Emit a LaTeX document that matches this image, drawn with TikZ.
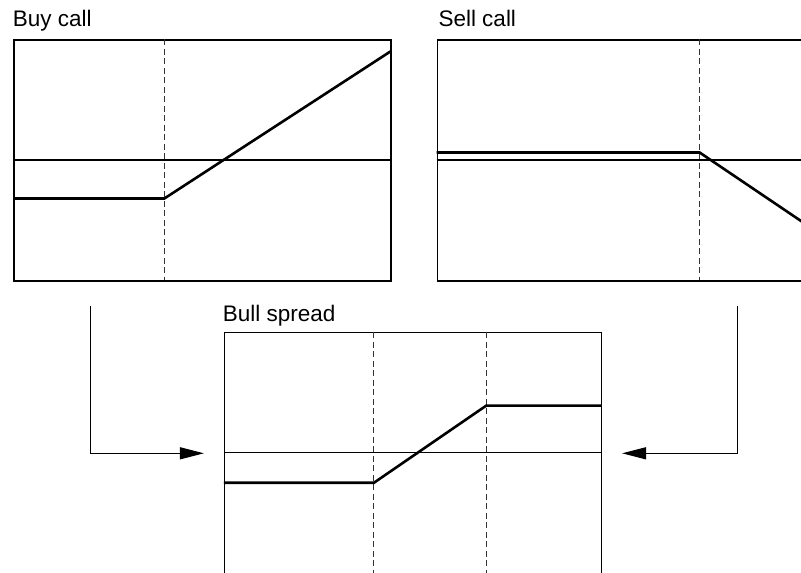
\documentclass[tikz,border=0pt]{standalone}
\usepackage{fontspec}
\setmainfont{Liberation Sans}
\usetikzlibrary{positioning,arrows.meta}

\tikzstyle{chart}  = [rectangle, draw, line width=1.1pt, minimum width=377pt, minimum height=241pt, inner sep=0pt]
\tikzstyle{title}  = [anchor=base west, inner sep=0pt, font=\fontsize{22.5}{26}\selectfont]
\tikzstyle{zero}   = [line width=1.1pt]
\tikzstyle{strike} = [line width=1pt, dash pattern=on 6pt off 3.5pt, black!80]
\tikzstyle{payoff} = [line width=2.6pt, line join=miter]
\tikzstyle{arrow}  = [line width=1.2pt, -{Triangle[length=24pt,width=12pt]}]

\begin{document}
\begin{tikzpicture}[x=1pt, y=-1pt]
\clip (0,0) rectangle (801,573);

\node (buy)  [chart] at (202.5,160.5) {};
\node (sell) [chart, right=45pt of buy] {};
\node (bull) [chart] at (413,453.3) {};

\node (buytitle)  [title] at (12.7,26.7)  {Buy call};
\node (selltitle) [title] at (438.3,26.7) {Sell call};
\node (bulltitle) [title] at (222.7,321.7) {Bull spread};

% buy call
\begin{scope}[shift={(buy.north west)}]
\draw [zero] (0,120.5) -- (377,120.5);
\draw [strike] (151,0) -- (151,241);
\draw [payoff] (0,159) -- (151,159) -- (377,12);
\end{scope}

% sell call
\begin{scope}[shift={(sell.north west)}]
\draw [zero] (0,120.5) -- (377,120.5);
\draw [strike] (263,0) -- (263,241);
\draw [payoff] (0,113) -- (263,113) -- (377,190);
\end{scope}

% bull spread
\begin{scope}[shift={(bull.north west)}]
\draw [zero] (0,120.5) -- (377,120.5);
\draw [strike] (150,0) -- (150,241);
\draw [strike] (262.4,0) -- (262.4,241);
\draw [payoff] (0,150.5) -- (150,150.5) -- (262.4,73.3) -- (377,73.3);
\end{scope}

\coordinate (buyfoot)  at (90.3,306);
\coordinate (sellfoot) at (737.3,306);
\draw [arrow, shorten >=20pt] (buyfoot) |- (bull.west);
\draw [arrow, shorten >=20pt] (sellfoot) |- (bull.east);
\end{tikzpicture}
\end{document}
